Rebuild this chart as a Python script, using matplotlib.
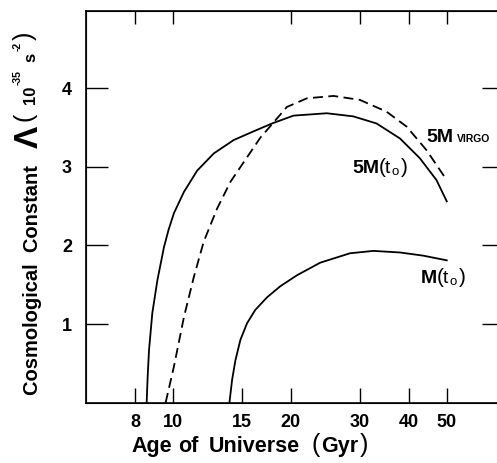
import matplotlib
matplotlib.use("Agg")
import matplotlib.pyplot as plt
from matplotlib.ticker import FixedLocator, NullLocator, NullFormatter, FixedFormatter

plt.rcParams['font.family'] = ['Liberation Sans', 'DejaVu Sans']

# Lambda versus age, three mass cases
age_5m = [8.57, 8.62, 8.69, 8.86, 9.13, 9.49, 9.75, 10.06, 10.67, 11.53, 12.72,
          14.3, 16.07, 17.9, 20.32, 24.71, 28.88, 33.1, 37.97, 42.66, 47.08, 50.0]
lam_5m = [0.0, 0.33, 0.67, 1.14, 1.56, 1.98, 2.20, 2.41, 2.68, 2.95, 3.17,
          3.34, 3.45, 3.55, 3.65, 3.68, 3.64, 3.55, 3.36, 3.11, 2.83, 2.56]

age_virgo = [9.58, 10.06, 10.67, 11.31, 11.99, 12.97, 14.03, 15.46, 16.72, 17.9,
             19.54, 21.98, 25.7, 30.0, 35.1, 39.5, 44.4, 50.0]
lam_virgo = [0.0, 0.46, 1.09, 1.60, 2.05, 2.47, 2.81, 3.12, 3.37, 3.54,
             3.76, 3.87, 3.90, 3.85, 3.70, 3.51, 3.21, 2.83]

age_m = [13.94, 14.16, 14.44, 14.87, 15.46, 16.23, 17.39, 18.79, 20.73, 23.76,
         28.33, 32.48, 37.97, 43.5, 50.0]
lam_m = [0.0, 0.29, 0.54, 0.80, 1.01, 1.18, 1.34, 1.48, 1.62, 1.78,
         1.90, 1.93, 1.91, 1.87, 1.81]

xticks_bottom = [8, 10, 15, 20, 30, 40, 50]
xticks_top = [8, 10, 20, 30, 40, 50]
yticks = [1, 2, 3, 4]

W, H = 497, 463
fig = plt.figure(figsize=(W / 100, H / 100), dpi=100)


def px(x, y):
    # pixel position (from top-left) -> figure fraction
    return x / W, 1 - y / H


ax = fig.add_axes([86 / W, 60.3 / H, 418 / W, 391.7 / H])
ax.set_xscale('log')
ax.set_xlim(6, 70)
ax.set_ylim(0, 4.98)

line_kw = dict(color='black', lw=1.3, solid_joinstyle='round', dash_joinstyle='round')
ax.plot(age_5m, lam_5m, **line_kw)
ax.plot(age_virgo, lam_virgo, dashes=(5.5, 3), **line_kw)
ax.plot(age_m, lam_m, **line_kw)

for s in ax.spines.values():
    s.set_linewidth(1.2)

ax.xaxis.set_major_locator(FixedLocator(xticks_bottom))
ax.xaxis.set_major_formatter(FixedFormatter([str(t) for t in xticks_bottom]))
ax.xaxis.set_minor_locator(NullLocator())
ax.xaxis.set_minor_formatter(NullFormatter())
ax.set_yticks(yticks)
ax.set_yticklabels([str(t) for t in yticks])

ax.tick_params(axis='x', which='major', direction='in', length=11, width=1.0,
               pad=8, labelsize=13, top=False)
ax.tick_params(axis='y', which='major', direction='in', length=16, width=1.0,
               pad=10, labelsize=13, right=True)
for lab in ax.get_xticklabels() + ax.get_yticklabels():
    lab.set_fontweight('bold')

top = ax.twiny()
top.set_xscale('log')
top.set_xlim(ax.get_xlim())
top.xaxis.set_major_locator(FixedLocator(xticks_top))
top.xaxis.set_minor_locator(NullLocator())
top.xaxis.set_major_formatter(NullFormatter())
top.xaxis.set_minor_formatter(NullFormatter())
top.tick_params(axis='x', which='major', direction='in', length=9, width=1.0)

# x axis title
bold = dict(fontweight='bold', va='baseline', ha='center')
fig.text(*px(152, 452), 'Age', fontsize=15.5, **bold)
fig.text(*px(188, 452), 'of', fontsize=15.5, **bold)
fig.text(*px(254, 452), 'Universe', fontsize=15.5, **bold)
fig.text(*px(340, 452), 'Gyr', fontsize=15.5, **bold)
fig.text(*px(316, 452), '(', fontsize=18, va='baseline', ha='center')
fig.text(*px(364, 452), ')', fontsize=18, va='baseline', ha='center')

# y axis title, stacked upward along x = baseline
rot = dict(rotation=90, rotation_mode='anchor', ha='left', va='baseline')
fig.text(*px(38, 395), 'Cosmological  Constant', fontsize=14.5, fontweight='bold', **rot)
fig.text(*px(38, 148), '\u039b', fontsize=24, fontweight='bold', **rot)
fig.text(*px(32, 121), '(', fontsize=18, **rot)
fig.text(*px(35, 104), '10', fontsize=12, fontweight='bold', **rot)
fig.text(*px(21, 85), '-35', fontsize=7.5, fontweight='bold', **rot)
fig.text(*px(35, 62), 's', fontsize=12, fontweight='bold', **rot)
fig.text(*px(21, 51), '-2', fontsize=7.5, fontweight='bold', **rot)
fig.text(*px(32, 40), ')', fontsize=18, **rot)

# curve labels
lab = dict(ha='left', va='baseline')
fig.text(*px(426, 142), '5M', fontsize=14, fontweight='bold', **lab)
fig.text(*px(457, 142), 'VIRGO', fontsize=7.5, fontweight='bold', **lab)


def mass_label(x, y, text, gap):
    fig.text(*px(x, y), text, fontsize=14, fontweight='bold', **lab)
    p = x + gap
    fig.text(*px(p, y), '(', fontsize=15, **lab)
    fig.text(*px(p + 5.5, y), 't', fontsize=14, **lab)
    fig.text(*px(p + 13, y + 2), 'o', fontsize=9.5, **lab)
    fig.text(*px(p + 22, y), ')', fontsize=15, **lab)


mass_label(352, 173, '5M', 27)
mass_label(421, 283, 'M', 16)

fig.savefig('out.png', dpi=100)
